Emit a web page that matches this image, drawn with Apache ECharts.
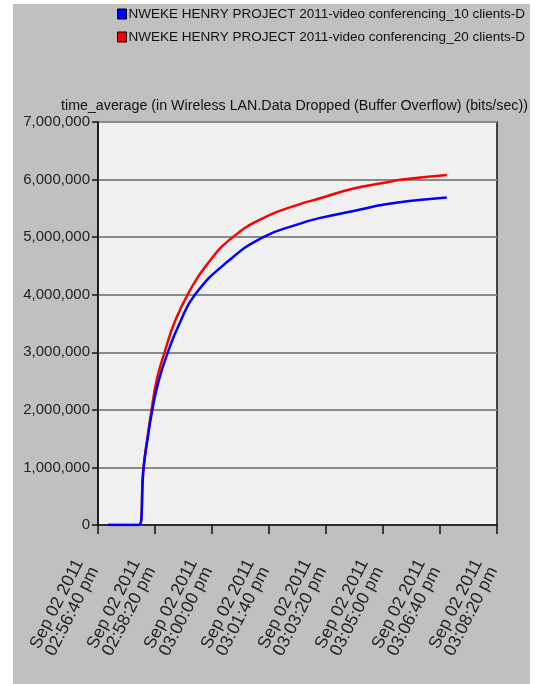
<!DOCTYPE html>
<html>
<head>
<meta charset="utf-8">
<script src="https://cdn.jsdelivr.net/npm/echarts@6/dist/echarts.min.js"></script>
<style>
html,body{margin:0;padding:0;background:#fff;}
#c{width:544px;height:684px;}
</style>
</head>
<body>
<div id="c"></div>
<script>
// seconds after Sep 02 2011 02:56:40 pm
const seriesNames = [
  'NWEKE HENRY PROJECT 2011-video conferencing_10 clients-D',
  'NWEKE HENRY PROJECT 2011-video conferencing_20 clients-D'
];
const blueTime  = [17.5, 72, 80, 87.6, 95.3, 106.9, 122.6, 143, 170, 228, 290, 353, 388, 446.6, 505, 563, 612];
const blueValue = [0, 0, 1000000, 1530000, 2000000, 2520000, 3000000, 3500000, 4000000, 4580000, 5000000, 5230000, 5330000, 5450000, 5570000, 5645000, 5690000];
const redTime   = [17.5, 72, 80, 94, 103, 116.8, 135, 159.4, 190, 236.5, 295, 353, 388, 446.6, 505, 534, 612];
const redValue  = [0, 0, 1000000, 2000000, 2520000, 3000000, 3540000, 4040000, 4510000, 5000000, 5355000, 5570000, 5670000, 5840000, 5950000, 6000000, 6080000];
const xTickLabels = [
  'Sep 02 2011\n02:56:40 pm', 'Sep 02 2011\n02:58:20 pm', 'Sep 02 2011\n03:00:00 pm',
  'Sep 02 2011\n03:01:40 pm', 'Sep 02 2011\n03:03:20 pm', 'Sep 02 2011\n03:05:00 pm',
  'Sep 02 2011\n03:06:40 pm', 'Sep 02 2011\n03:08:20 pm'
];
const yTickLabels = ['0', '1,000,000', '2,000,000', '3,000,000', '4,000,000', '5,000,000', '6,000,000', '7,000,000'];
const titleText = 'time_average (in Wireless LAN.Data Dropped (Buffer Overflow) (bits/sec))';

const zip = (a, b) => a.map((t, i) => [t, b[i]]);
const regular = '"Liberation Sans", Arial, sans-serif';

const chart = echarts.init(document.getElementById('c'), null, {renderer: 'canvas'});
chart.setOption({
  backgroundColor: '#ffffff',
  animation: false,
  graphic: [
    {type: 'rect', z: -10, shape: {x: 13, y: 4, width: 517, height: 680}, style: {fill: '#c0c0c0'}},
    {type: 'rect', z: 100, zlevel: 1, shape: {x: 530, y: 0, width: 14, height: 684}, style: {fill: '#ffffff'}}
  ],
  title: {
    text: titleText,
    left: 61, top: 99,
    padding: 0,
    textStyle: {fontFamily: regular, fontSize: 14.25, fontWeight: 'normal', color: '#111'}
  },
  legend: {
    orient: 'vertical',
    left: 117, top: 7,
    padding: 0,
    icon: 'rect',
    itemWidth: 9, itemHeight: 10,
    itemGap: 9,
    selectedMode: false,
    itemStyle: {borderColor: '#000', borderWidth: 1},
    textStyle: {fontFamily: regular, fontSize: 13.5, color: '#111', padding: [0, 0, 0, -3]},
    data: seriesNames
  },
  grid: {
    left: 98, right: 47, top: 122, bottom: 159,
    show: true, backgroundColor: '#f0f0f0', borderColor: '#111', borderWidth: 1.5
  },
  xAxis: {
    type: 'value', min: 0, max: 700, interval: 100,
    axisLine: {show: true, lineStyle: {color: '#111', width: 1.5}},
    axisTick: {show: true, length: 9, lineStyle: {color: '#111', width: 1.5}},
    splitLine: {show: false},
    axisLabel: {
      rotate: 63, margin: 17, fontFamily: regular, fontSize: 17.5, lineHeight: 17, color: '#222',
      padding: [0, 25, 0, 0],
      formatter: v => xTickLabels[Math.round(v / 100)]
    }
  },
  yAxis: {
    type: 'value', min: 0, max: 7000000, interval: 1000000,
    axisLine: {show: true, lineStyle: {color: '#111', width: 1.5}},
    axisTick: {show: true, length: 6, lineStyle: {color: '#111', width: 1.5}},
    splitLine: {show: true, lineStyle: {color: '#8a8a8a', width: 2}},
    axisLabel: {
      margin: 8, fontFamily: regular, fontSize: 15, color: '#222',
      formatter: v => yTickLabels[Math.round(v / 1000000)]
    }
  },
  series: [
    {
      name: seriesNames[1], type: 'line', data: zip(redTime, redValue),
      showSymbol: false, smooth: 0.5, z: 2,
      itemStyle: {color: '#ff0000'}, lineStyle: {color: '#ff0000', width: 2.5}
    },
    {
      name: seriesNames[0], type: 'line', data: zip(blueTime, blueValue),
      showSymbol: false, smooth: 0.5, z: 3,
      itemStyle: {color: '#0000ff'}, lineStyle: {color: '#0000ff', width: 2.5}
    }
  ]
});
</script>
</body>
</html>
